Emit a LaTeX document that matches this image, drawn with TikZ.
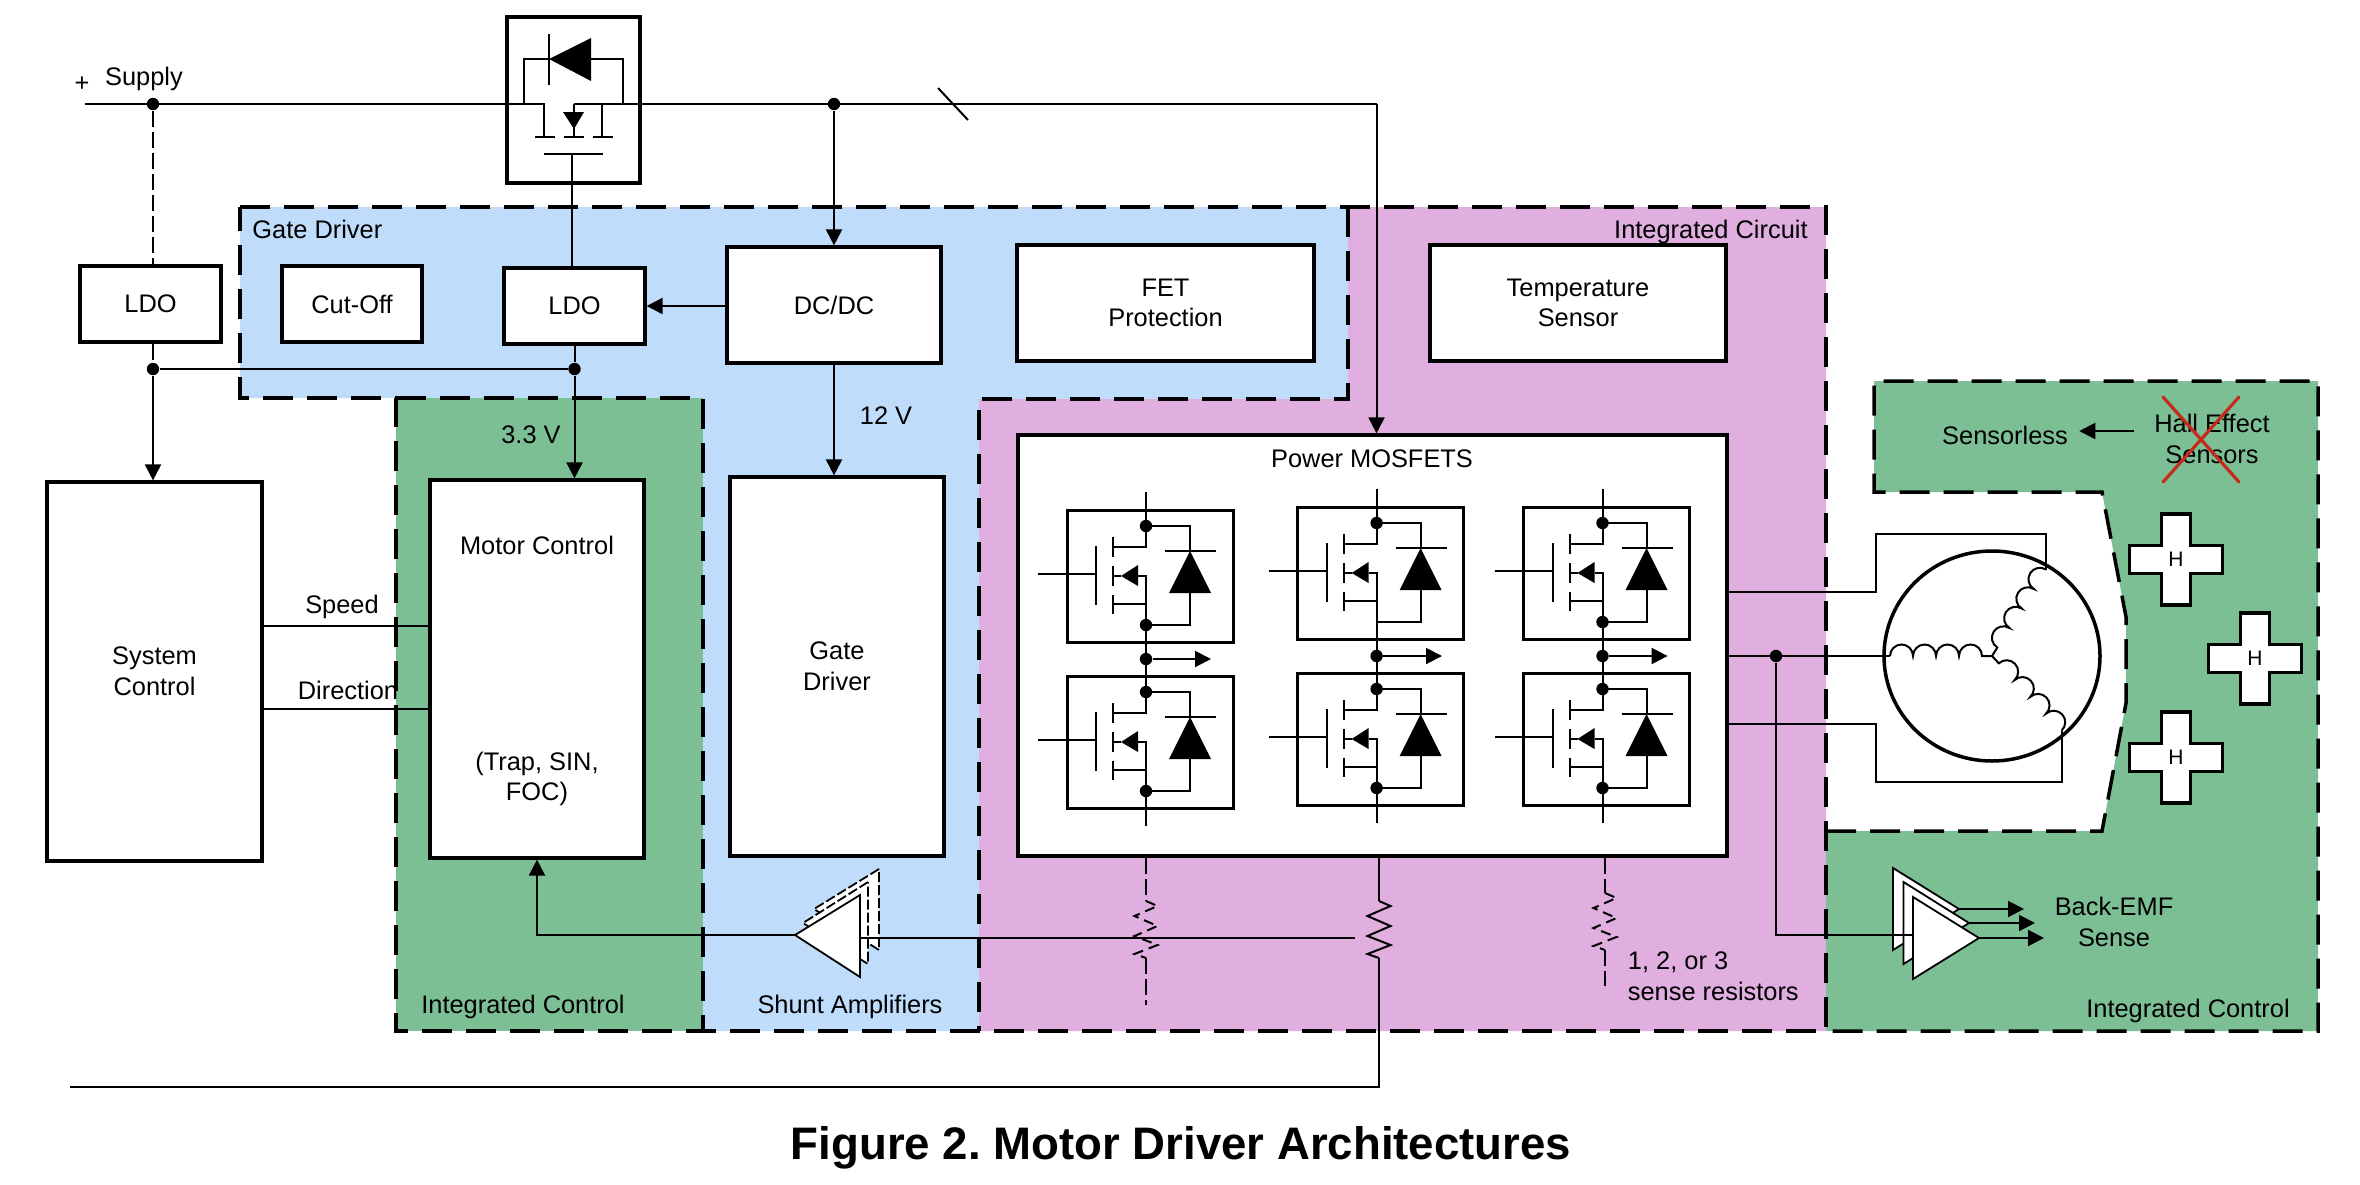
\documentclass[tikz,border=0pt]{standalone}
\usepackage{fontspec}
\setmainfont{Liberation Sans}
\usetikzlibrary{arrows.meta}

\definecolor{gateblue}{HTML}{BFDCFA}
\definecolor{ctrlgreen}{HTML}{7DBF95}
\definecolor{icpink}{HTML}{E0AFE0}
\definecolor{crossred}{HTML}{C42B1C}

\tikzset{
  every node/.style={font=\fontsize{12.7}{15.3}\selectfont},
  boxsize/.style 2 args={minimum width=#1*0.5pt, minimum height=#2*0.5pt},
  block/.style={draw, fill=white, line width=1.6pt, inner sep=0pt, align=center},
  cellbox/.style={draw, line width=1.5pt, inner sep=0pt, minimum width=83pt, minimum height=66pt},
  lbl/.style={inner sep=0pt, align=center},
  wire/.style={line width=1pt},
  dashwire/.style={line width=1pt, dash pattern=on 8pt off 2.5pt},
  dashzig/.style={line width=1pt, dash pattern=on 5pt off 3pt},
  flow/.style={wire, -{Triangle[length=8pt,width=8pt]}},
  region/.style={line width=1.75pt, dash pattern=on 15pt off 7pt},
  dot/.style={circle, fill=black, inner sep=0pt, minimum size=6.2pt},
  nodot/.style={inner sep=0pt, minimum size=0pt},
  amp/.style={draw, fill=white, line width=0.9pt},
  ampdash/.style={amp, dash pattern=on 5pt off 1.5pt},
  crossout/.style={draw=crossred, line width=1.6pt, line cap=round},
}

% one switch of the bridge: bottom-dot style, name, x of the drain line, top of box
\newcommand{\fetcell}[4][dot]{
\begin{scope}[shift={(#3,#4)}]
\node[cellbox] (#2box) at (4,66) {};
\node[dot] (#2d) at (0,16) {};
\node[#1] (#2s) at (0,115) {};
\coordinate (#2top) at (0,-18);
\coordinate (#2bot) at (0,150);
\coordinate (#2gate) at (-108,64);
\draw[wire] (#2top) -- (0,37) -- (-33,37);
\draw[wire] (-33,94) -- (0,94);
\draw[wire] (-33,66) -- (-25,66);
\draw[wire] (-8,66) -- (0,66) -- (#2bot);
\draw[wire] (-33,27) -- (-33,47);
\draw[wire] (-33,56) -- (-33,76);
\draw[wire] (-33,85) -- (-33,104);
\draw[wire] (-50,36) -- (-50,95);
\draw[wire] (#2gate) -- (-50,64);
\fill (-25,66) -- (-8,55) -- (-8,76) -- cycle;
\draw[wire] (#2d.center) -| (44,41);
\draw[wire] (19,41) -- (70,41);
\fill (44,41) -- (65,83) -- (23,83) -- cycle;
\draw[wire] (44,83) |- (#2s.center);
\end{scope}
}

% Hall sensor outline
\newcommand{\hallcross}[3]{
\draw[block, shift={(#2,#3)}] (-14.5,-45.5) -- (14.5,-45.5) -- (14.5,-14) -- (46.5,-14) -- (46.5,14)
  -- (14.5,14) -- (14.5,45.5) -- (-14.5,45.5) -- (-14.5,14) -- (-46.5,14) -- (-46.5,-14) -- (-14.5,-14) -- cycle;
\node[lbl, font=\fontsize{10.5}{12}\selectfont] (#1) at (#2,#3) {H};
}

% sense resistor: name, x, y of top, line style
\newcommand{\senseres}[4]{
\coordinate (#1in) at (#2,#3);
\coordinate (#1out) at (#2,#3+57);
\draw[#4, shift={(#2,#3)}] (0,0) -- (11.5,5) -- (-11.5,15) -- (11.5,25) -- (-11.5,35) -- (11.5,44) -- (-11.5,53) -- (0,57);
}

% motor winding
\newcommand{\motorcoil}[2]{
\begin{scope}[shift={(motorC)},#2]
\coordinate (#1) at (102,0);
\draw[wire] (0,0) -- (10,0) arc[start angle=180,end angle=0,radius=5.75pt]
  arc[start angle=180,end angle=0,radius=5.75pt]
  arc[start angle=180,end angle=0,radius=5.75pt]
  arc[start angle=180,end angle=0,radius=5.75pt];
\end{scope}
}

\begin{document}
\frenchspacing
\begin{tikzpicture}[x=0.5pt,y=-0.5pt]
\useasboundingbox (0,0) rectangle (2360,1184);

% regions
\fill[gateblue] (240,207) -- (1348,207) -- (1348,399) -- (979,399) -- (979,1031) -- (703,1031) -- (703,398) -- (240,398) -- cycle;
\fill[ctrlgreen] (396,398) rectangle (703,1031);
\fill[icpink] (1348,207) -- (1826,207) -- (1826,1031) -- (979,1031) -- (979,399) -- (1348,399) -- cycle;
\fill[ctrlgreen] (1874,381) -- (2318,381) -- (2318,1031) -- (1826,1031) -- (1826,831) -- (2102,831) -- (2126,703) -- (2126,617) -- (2102,492) -- (1874,492) -- cycle;
\draw[region] (240,207) -- (1826,207) -- (1826,1031) -- (396,1031) -- (396,398) -- (240,398) -- cycle;
\draw[region] (396,398) -- (703,398) -- (703,1031);
\draw[region] (1348,207) -- (1348,399) -- (979,399) -- (979,1031);
\draw[region] (1826,831) -- (2102,831) -- (2126,703) -- (2126,617) -- (2102,492) -- (1874,492) -- (1874,381) -- (2318,381) -- (2318,1031) -- (1826,1031);

% blocks
\node[block, boxsize={133}{166}] (revsw) at (573.5,100) {};
\node[block, boxsize={141}{76}] (ldoA) at (150.5,304) {LDO};
\node[block, boxsize={140}{76}] (cutoff) at (352,304) {Cut-Off};
\node[block, boxsize={141}{76}] (ldoB) at (574.5,306) {LDO};
\node[block, boxsize={214}{116}] (dcdc) at (834,305) {DC/DC};
\node[block, boxsize={297}{116}] (fetprot) at (1165.5,303) {FET\\Protection};
\node[block, boxsize={296}{116}] (tempsens) at (1578,303) {Temperature\\Sensor};
\node[block, boxsize={215}{379}] (sysctrl) at (154.5,671.5) {System\\Control};
\node[block, boxsize={214}{378}] (motorctrl) at (537,669) {};
\node[block, boxsize={214}{379}] (gatedrv) at (837,666.5) {Gate\\Driver};
\node[block, boxsize={709}{421}] (power) at (1372.5,645.5) {};

% labels
\node[lbl] (plus) at (82,84) {+};
\node[lbl] (supply) at (144,79) {Supply};
\node[lbl, anchor=west] (gatelbl) at (252,229) {Gate Driver};
\node[lbl, anchor=east] (iclbl) at (1808,232) {Integrated Circuit};
\node[lbl] (volt33) at (531,435) {3.3 V};
\node[lbl] (volt12) at (886,416) {12 V};
\node[lbl] (speed) at (342,607) {Speed};
\node[lbl] (direction) at (348,690) {Direction};
\node[lbl] (mclbl) at (537,545) {Motor Control};
\node[lbl] (mctypes) at (537,779) {(Trap, SIN,\\FOC)};
\node[lbl] (powerlbl) at (1372,459) {Power MOSFETS};
\node[lbl] (ctrlA) at (523,1007) {Integrated Control};
\node[lbl] (shuntlbl) at (850,1007) {Shunt Amplifiers};
\node[lbl, align=left, anchor=west] (senselbl) at (1627.5,976.5) {1, 2, or 3\\sense resistors};
\node[lbl] (ctrlB) at (2188,1011) {Integrated Control};
\node[lbl] (bemf) at (2114,922) {Back-EMF\\Sense};
\node[lbl] (sensorless) at (2005,435) {Sensorless};
\node[lbl] (hallsens) at (2212,439) {Hall Effect\\Sensors};
\node[lbl, font=\bfseries\fontsize{22.8}{27}\selectfont] (title) at (1181,1148) {Figure 2. Motor Driver Architectures};

\draw[crossout] (2163,397) -- (2239,482);
\draw[crossout] (2239,397) -- (2163,482);

% supply rail and reverse protection
\coordinate (supplyL) at (85,104);
\coordinate (srcL) at (544,104);
\coordinate (srcR) at (574,104);
\coordinate (turnP) at (1376.5,104);
\coordinate (gateS) at (571.7,183);
\node[dot] (dotS) at (153,104) {};
\node[dot] (dotD) at (834,104) {};
\draw[wire] (supplyL) -- (srcL) -- (544,137);
\draw[wire] (srcR) -- (turnP);
\draw[wire] (574,104) -- (574,137);
\draw[wire] (602,104) -- (602,137);
\fill (563,112) -- (584,112) -- (574,129) -- cycle;
\draw[wire] (535,137) -- (555,137);
\draw[wire] (563.5,137) -- (584,137);
\draw[wire] (592.7,137) -- (612.7,137);
\draw[wire] (544,153.7) -- (603,153.7);
\draw[wire] (571.7,153.7) -- (gateS) -- (gateS |- ldoB.north);
\draw[wire] (524,104) -- (524,59) -- (549,59);
\draw[wire] (549,34) -- (549,85);
\fill (549,59) -- (591,38) -- (591,81) -- cycle;
\draw[wire] (591,59) -- (623,59) -- (623,104);
\draw[wire] (938,88) -- (968,120);

% supply branches
\node[dot] (dotL) at (153,369) {};
\node[dot] (dotM) at (574.5,369) {};
\draw[dashwire] (dotS) -- (dotS |- ldoA.north);
\draw[dashwire] (dotL |- ldoA.south) -- (dotL);
\draw[wire] (dotL) -- (dotM);
\draw[wire] (ldoB.south) -- (dotM);
\draw[flow] (dotL) -- (dotL |- sysctrl.north);
\draw[flow] (dotM) -- (dotM |- motorctrl.north);
\draw[flow] (dotD) -- (dotD |- dcdc.north);
\draw[flow] (dcdc.west |- ldoB.east) -- (ldoB.east);
\draw[flow] (dcdc.south) -- (dcdc.south |- gatedrv.north);
\draw[flow] (turnP) -- (turnP |- power.north);

% control lines
\coordinate (speedY) at (0,626);
\coordinate (dirY) at (0,709);
\draw[wire] (speedY -| sysctrl.east) -- (speedY -| motorctrl.west);
\draw[wire] (dirY -| sysctrl.east) -- (dirY -| motorctrl.west);

% bridge
\fetcell{aHi}{1146}{510}
\fetcell{aLo}{1146}{676}
\fetcell[nodot]{bHi}{1376.6}{507}
\fetcell{bLo}{1376.6}{673}
\fetcell{cHi}{1602.5}{507}
\fetcell{cLo}{1602.5}{673}
\node[dot] (aMid) at (1146,659) {};
\node[dot] (bMid) at (1376.6,656) {};
\node[dot] (cMid) at (1602.5,656) {};
\coordinate (aOut) at (1211,659);
\coordinate (bOut) at (1442,656);
\coordinate (cOut) at (1667.6,656);
\draw[flow] (aMid) -- (aOut);
\draw[flow] (bMid) -- (bOut);
\draw[flow] (cMid) -- (cOut);

% sense resistors
\senseres{resA}{1146}{901}{dashzig}
\senseres{resB}{1379}{901}{wire}
\senseres{resC}{1605}{893}{dashzig}
\coordinate (resAend) at (1146,1005);
\coordinate (resCend) at (1605,986);
\coordinate (gndL) at (70,1087);
\draw[dashwire] (resAin |- power.south) -- (resAin);
\draw[dashwire] (resAout) -- (resAend);
\draw[dashwire] (resCin |- power.south) -- (resCin);
\draw[dashwire] (resCout) -- (resCend);
\draw[wire] (resBin |- power.south) -- (resBin);
\draw[wire] (resBout) |- (gndL);

% shunt amplifiers
\coordinate (shuntC) at (795,935);
\coordinate (shuntIn) at (860,938);
\coordinate (shuntEnd) at (1355,938);
\draw[ampdash] (879,869) -- (814,909) -- (879,950) -- cycle;
\draw[ampdash] (868,882) -- (803,923) -- (868,964) -- cycle;
\draw[amp] (860,895) -- (shuntC) -- (860,977) -- cycle;
\draw[wire] (shuntIn) -- (shuntEnd);
\draw[flow] (shuntC) -| (motorctrl.south);

% motor
\coordinate (motorC) at (1992,656);
\draw[line width=1.75pt, fill=white] (motorC) ellipse [x radius=108, y radius=105];
\motorcoil{coilU}{xscale=-1}
\motorcoil{coilV}{rotate=58}
\motorcoil{coilW}{rotate=-47}
\node[dot] (dotE) at (1776,656) {};
\coordinate (powerV) at (1727,592);
\coordinate (powerU) at (1727,656);
\coordinate (powerW) at (1727,724);
\coordinate (turnV) at (1876,534);
\coordinate (turnW) at (1876,782);
\draw[wire] (powerV) -| (turnV) -| (coilV);
\draw[wire] (powerU) -- (coilU);
\draw[wire] (powerW) -| (turnW) -| (coilW);

% back-EMF amplifiers
\coordinate (emfA) at (1959,909);
\coordinate (emfB) at (1969,923);
\coordinate (emfC) at (1979,938);
\coordinate (emfAout) at (2024,909);
\coordinate (emfBout) at (2035,923);
\coordinate (emfCout) at (2044,938);
\coordinate (emfIn) at (1913,935);
\draw[amp] (1893,868) -- (emfA) -- (1893,950) -- cycle;
\draw[amp] (1903.5,882) -- (emfB) -- (1903.5,964) -- cycle;
\draw[wire] (dotE) |- (emfIn);
\draw[amp] (1913,897) -- (emfC) -- (1913,979) -- cycle;
\draw[flow] (emfA) -- (emfAout);
\draw[flow] (emfB) -- (emfBout);
\draw[flow] (emfC) -- (emfCout);

% Hall sensors
\hallcross{hallA}{2176}{559.5}
\hallcross{hallB}{2255}{658.5}
\hallcross{hallC}{2176}{757.5}
\coordinate (arrowY) at (0,431);
\draw[flow, shorten <=10pt, shorten >=5.5pt] (hallsens.west |- arrowY) -- (sensorless.east |- arrowY);
\end{tikzpicture}
\end{document}
